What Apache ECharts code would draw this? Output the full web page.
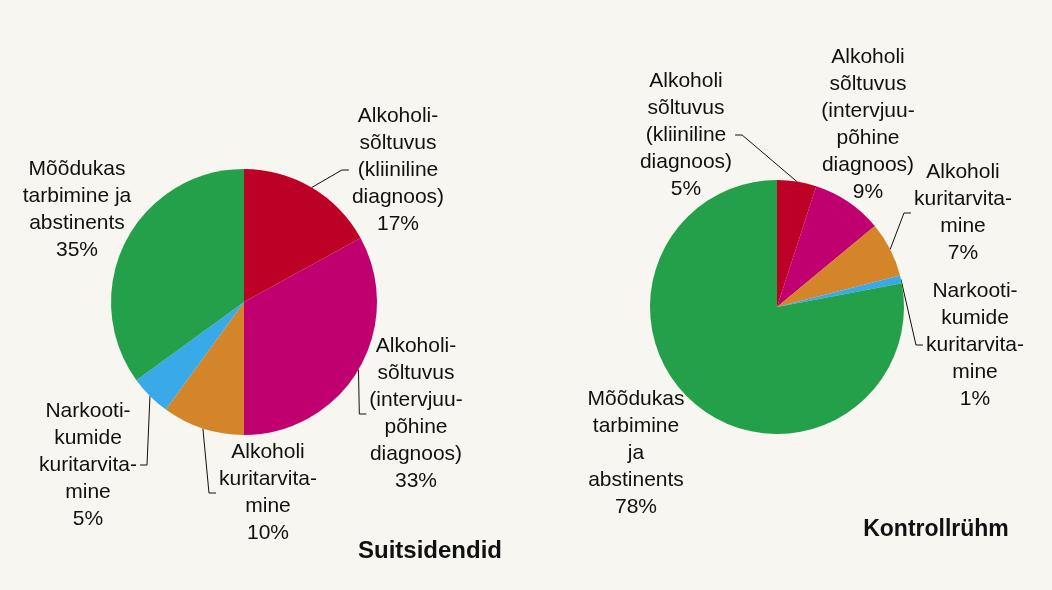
<!DOCTYPE html>
<html>
<head>
<meta charset="utf-8">
<script src="https://cdn.jsdelivr.net/npm/echarts@6/dist/echarts.min.js"></script>
<style>
    html, body { margin: 0; padding: 0; background: #f7f6f0; }
    #chart { width: 1052px; height: 590px; }
</style>
</head>
<body>
<div id="chart"></div>
<script>
// Group names, as written on each pie
const suicideNames = [
    'Alkoholi-\nsõltuvus\n(kliiniline\ndiagnoos)',
    'Alkoholi-\nsõltuvus\n(intervjuu-\npõhine\ndiagnoos)',
    'Alkoholi\nkuritarvita-\nmine',
    'Narkooti-\nkumide\nkuritarvita-\nmine',
    'Mõõdukas\ntarbimine ja\nabstinents'
];
const controlNames = [
    'Alkoholi\nsõltuvus\n(kliiniline\ndiagnoos)',
    'Alkoholi\nsõltuvus\n(intervjuu-\npõhine\ndiagnoos)',
    'Alkoholi\nkuritarvita-\nmine',
    'Narkooti-\nkumide\nkuritarvita-\nmine',
    'Mõõdukas\ntarbimine\nja\nabstinents'
];
// Shares, %
const suicideValues = [17, 33, 10, 5, 35];
const controlValues = [5, 9, 7, 1, 78];

const sliceColors = ['#bd0026', '#c1006f', '#d4852a', '#3aa9e8', '#249f4a'];
const fontFamily = '"Liberation Sans", Arial, sans-serif';

// label block centres (layout only)
const labelPos = [
    [[398, 170], [416, 414], [268, 493], [88, 465], [77, 210]],
    [[686, 135], [868, 125], [963, 213], [975, 345], [636, 453]]
];
// which slices get a leader line
const withLine = [
    [true, true, true, true, false],
    [true, false, true, true, false]
];

const chart = echarts.init(document.getElementById('chart'));

const makeData = (names, values, s) => names.map((name, i) => ({
    name: name,
    value: values[i],
    itemStyle: { color: sliceColors[i] },
    labelLine: { show: withLine[s][i] }
}));

const pieBase = {
    type: 'pie',
    startAngle: 90,
    clockwise: true,
    avoidLabelOverlap: false,
    percentPrecision: 0,
    label: {
        position: 'outside',
        formatter: '{b}\n{d}%',
        color: '#111',
        fontFamily: fontFamily,
        fontSize: 21,
        lineHeight: 27
    },
    labelLine: {
        length: 10,
        length2: 8,
        lineStyle: { color: '#111', width: 1 }
    },
    itemStyle: { borderWidth: 0 },
    emphasis: { disabled: true },
    labelLayout: (params) => {
        const p = labelPos[params.seriesIndex][params.dataIndex];
        const res = { x: p[0], y: p[1], align: 'center', verticalAlign: 'middle' };
        const pts = params.labelLinePoints;
        if (pts && pts.length) {
            // leader: slice mid-angle -> elbow -> short tick at the label side
            const start = pts[0];
            const side = p[0] > start[0] ? -1 : 1;
            const edgeX = p[0] + side * (params.labelRect.width / 2 + 3);
            res.labelLinePoints = [start, [edgeX + side * 7, p[1]], [edgeX, p[1]]];
        }
        return res;
    }
};

chart.setOption({
    backgroundColor: '#f7f6f0',
    animation: false,
    graphic: [
        {
            type: 'text',
            x: 430, y: 551,
            style: {
                text: 'Suitsidendid',
                font: 'bold 24px ' + fontFamily,
                fill: '#111',
                textAlign: 'center',
                textVerticalAlign: 'middle'
            }
        },
        {
            type: 'text',
            x: 936, y: 530,
            style: {
                text: 'Kontrollrühm',
                font: 'bold 23px ' + fontFamily,
                fill: '#111',
                textAlign: 'center',
                textVerticalAlign: 'middle'
            }
        }
    ],
    series: [
        Object.assign({}, pieBase, {
            center: [244, 302],
            radius: 133,
            data: makeData(suicideNames, suicideValues, 0)
        }),
        Object.assign({}, pieBase, {
            center: [777, 307],
            radius: 127,
            data: makeData(controlNames, controlValues, 1)
        })
    ]
});
</script>
</body>
</html>
